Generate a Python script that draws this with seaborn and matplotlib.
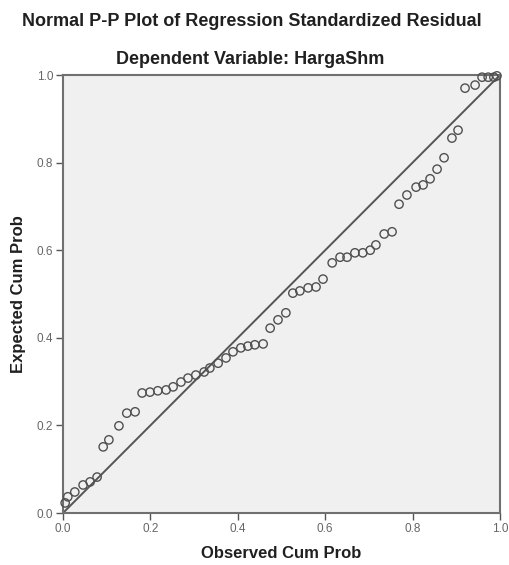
import matplotlib
matplotlib.use("Agg")
import matplotlib.pyplot as plt
import seaborn as sns
import pandas as pd

observed = [0.005, 0.011, 0.027, 0.046, 0.062, 0.078, 0.092, 0.105, 0.128, 0.146,
            0.165, 0.181, 0.199, 0.217, 0.236, 0.252, 0.270, 0.286, 0.304, 0.323,
            0.336, 0.355, 0.373, 0.389, 0.407, 0.423, 0.439, 0.458, 0.474, 0.492,
            0.510, 0.526, 0.542, 0.561, 0.579, 0.595, 0.616, 0.634, 0.650, 0.668,
            0.686, 0.703, 0.716, 0.735, 0.753, 0.769, 0.787, 0.808, 0.824, 0.840,
            0.856, 0.872, 0.890, 0.904, 0.920, 0.943, 0.959, 0.973, 0.986, 0.993]
expected = [0.023, 0.037, 0.048, 0.064, 0.071, 0.082, 0.151, 0.167, 0.199, 0.228,
            0.231, 0.274, 0.276, 0.279, 0.281, 0.288, 0.299, 0.308, 0.315, 0.322,
            0.331, 0.342, 0.354, 0.368, 0.377, 0.381, 0.384, 0.386, 0.422, 0.441,
            0.457, 0.502, 0.507, 0.514, 0.516, 0.534, 0.571, 0.584, 0.584, 0.594,
            0.594, 0.600, 0.612, 0.637, 0.642, 0.705, 0.726, 0.744, 0.749, 0.763,
            0.785, 0.811, 0.856, 0.874, 0.970, 0.977, 0.995, 0.995, 0.995, 0.998]
ticks = [0.0, 0.2, 0.4, 0.6, 0.8, 1.0]
tick_labels = ["0.0", "0.2", "0.4", "0.6", "0.8", "1.0"]

df = pd.DataFrame({"Observed Cum Prob": observed, "Expected Cum Prob": expected})

sns.set_theme(style="white")
plt.rcParams["font.family"] = ["Liberation Sans", "DejaVu Sans"]

fig = plt.figure(figsize=(5.10, 5.65), dpi=100)
ax = fig.add_axes([63/510, 52/565, 437/510, 438/565])
ax.set_facecolor("#f0f0f0")

ax.axline((0, 0), slope=1, color="#555555", linewidth=1.4, zorder=2)
sns.scatterplot(data=df, x="Observed Cum Prob", y="Expected Cum Prob", ax=ax,
                marker="o", s=36, facecolor="none", edgecolor="#505050",
                linewidth=1.0, zorder=3, clip_on=False)

ax.set_xlim(0, 1)
ax.set_ylim(0, 1)
ax.set_xticks(ticks)
ax.set_xticklabels(tick_labels)
ax.set_yticks(ticks)
ax.set_yticklabels(tick_labels)
ax.tick_params(axis="both", direction="out", length=5, width=1, color="#555555",
               labelsize=8.5, labelcolor="#666666", pad=2, bottom=True, left=True)
for s in ax.spines.values():
    s.set_color("#707070")
    s.set_linewidth(1.5)

ax.set_xlabel("Observed Cum Prob", fontsize=12, fontweight="bold", color="#202020", labelpad=8)
ax.set_ylabel("Expected Cum Prob", fontsize=12, fontweight="bold", color="#202020", labelpad=8)

fig.text(0.494, 1 - 22/565, "Normal P-P Plot of Regression Standardized Residual",
         ha="center", va="center", fontsize=13, fontweight="bold", color="#202020")
fig.text(0.49, 1 - 60/565, "Dependent Variable: HargaShm",
         ha="center", va="center", fontsize=13, fontweight="bold", color="#202020")

fig.savefig("out.png", dpi=100, facecolor="white")
